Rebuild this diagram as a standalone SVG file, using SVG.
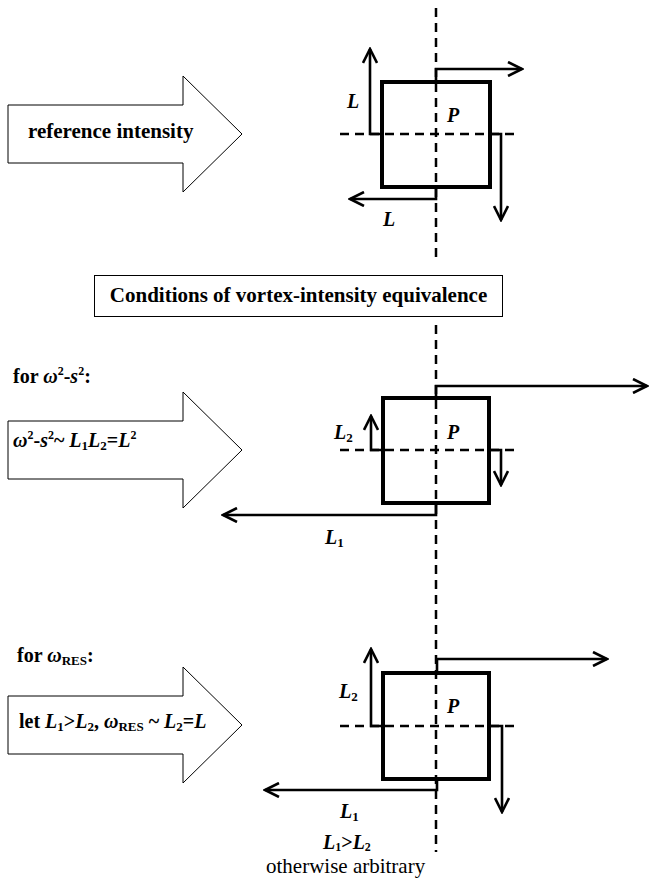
<svg xmlns="http://www.w3.org/2000/svg" width="649" height="880" viewBox="0 0 649 880">
<style>
text{font-family:"Liberation Serif","Times New Roman",serif;fill:#000}
.b{font-weight:bold}
.i{font-style:italic;font-weight:bold}
.blk{fill:#fff;stroke:#000;stroke-width:1}
.sq{fill:none;stroke:#000;stroke-width:4}
.dash{stroke:#000;stroke-width:2.5;stroke-dasharray:9 6;fill:none}
.ar{fill:none;stroke:#000;stroke-width:2.6;marker-end:url(#h)}
</style>
<defs>
<marker id="h" viewBox="-15 -8 17 16" refX="0" refY="0" markerWidth="17" markerHeight="16" markerUnits="userSpaceOnUse" orient="auto">
<path d="M-14,-7 L0,0 L-14,7" fill="none" stroke="#000" stroke-width="2.6"/>
</marker>
</defs>

<g id="guides">
<line class="dash" x1="436" y1="8" x2="436" y2="260"/>
<line class="dash" x1="436" y1="325" x2="436" y2="852"/>
<line class="dash" x1="340" y1="134" x2="517" y2="134"/>
<line class="dash" x1="340" y1="450" x2="517" y2="450"/>
<line class="dash" x1="340" y1="726" x2="517" y2="726"/>
</g>

<g id="arrow-ref">
<path class="blk" d="M8,105 H183 V76 L242,134 L183,192 V163 H8 Z"/>
<text class="b" x="28" y="138" font-size="21">reference intensity</text>
</g>

<g id="square-ref">
<rect class="sq" x="382" y="82" width="108" height="105"/>
<text class="i" x="347" y="108" font-size="20">L</text>
<text class="i" x="447" y="122" font-size="20">P</text>
<text class="i" x="383" y="226" font-size="20">L</text>
</g>

<g id="conditions">
<rect x="94.5" y="275.5" width="408" height="41" fill="#fff" stroke="#000" stroke-width="1"/>
<text class="b" x="298.5" y="302" font-size="21" text-anchor="middle">Conditions of vortex-intensity equivalence</text>
</g>

<g id="arrow-ws">
<text class="b" x="13" y="383" font-size="20">for <tspan class="i">ω</tspan><tspan font-size="12" dy="-8">2</tspan><tspan dy="8">-</tspan><tspan class="i">s</tspan><tspan font-size="12" dy="-8">2</tspan><tspan dy="8">:</tspan></text>
<path class="blk" d="M8,421 H183 V392 L242,450 L183,508 V479 H8 Z"/>
<text class="b" x="13" y="447" font-size="20"><tspan class="i">ω</tspan><tspan font-size="12" dy="-8">2</tspan><tspan dy="8">-</tspan><tspan class="i">s</tspan><tspan font-size="12" dy="-8">2</tspan><tspan dy="8">~ </tspan><tspan class="i">L</tspan><tspan font-size="13" dy="3">1</tspan><tspan class="i" dy="-3">L</tspan><tspan font-size="13" dy="3">2</tspan><tspan dy="-3">=</tspan><tspan class="i">L</tspan><tspan font-size="12" dy="-8">2</tspan></text>
</g>

<g id="square-ws">
<rect class="sq" x="383" y="398" width="106" height="105"/>
<text class="i" x="334" y="439" font-size="20">L<tspan font-size="13" font-style="normal" dy="3">2</tspan></text>
<text class="i" x="447" y="439" font-size="20">P</text>
<text class="i" x="325" y="544" font-size="20">L<tspan font-size="13" font-style="normal" dy="3">1</tspan></text>
</g>

<g id="arrow-res">
<text class="b" x="17" y="662" font-size="20">for <tspan class="i">ω</tspan><tspan font-size="13" dy="3">RES</tspan><tspan dy="-3">:</tspan></text>
<path class="blk" d="M8,696 H183 V667 L242,725 L183,783 V754 H8 Z"/>
<text class="b" x="19" y="728" font-size="20">let <tspan class="i">L</tspan><tspan font-size="13" dy="3">1</tspan><tspan dy="-3">&gt;</tspan><tspan class="i">L</tspan><tspan font-size="13" dy="3">2</tspan><tspan dy="-3">, </tspan><tspan class="i">ω</tspan><tspan font-size="13" dy="3">RES</tspan><tspan dy="-3"> ~ </tspan><tspan class="i">L</tspan><tspan font-size="13" dy="3">2</tspan><tspan dy="-3">=</tspan><tspan class="i">L</tspan></text>
</g>

<g id="square-res">
<rect class="sq" x="383" y="673" width="106" height="106"/>
<text class="i" x="339" y="698" font-size="20">L<tspan font-size="13" font-style="normal" dy="3">2</tspan></text>
<text class="i" x="447" y="713" font-size="20">P</text>
<text class="i" x="340" y="818" font-size="20">L<tspan font-size="13" font-style="normal" dy="3">1</tspan></text>
<text class="i" x="323" y="849" font-size="20">L<tspan font-size="12" font-style="normal" dy="2">1</tspan><tspan font-style="normal" dy="-2">&gt;</tspan>L<tspan font-size="12" font-style="normal" dy="2">2</tspan></text>
<text x="266" y="873" font-size="21">otherwise arbitrary</text>
</g>

<g id="connectors">
<path class="ar" d="M436,80 V69 H522"/>
<path class="ar" d="M380,134 H370 V49"/>
<path class="ar" d="M436,189 V199 H350"/>
<path class="ar" d="M492,134 H501 V220"/>

<path class="ar" d="M436,396 V386 H647"/>
<path class="ar" d="M381,450 H371 V416"/>
<path class="ar" d="M491,450 H501 V485"/>
<path class="ar" d="M436,505 V515 H223"/>

<path class="ar" d="M381,726 H371 V649"/>
<path class="ar" d="M437,671 V659 H607"/>
<path class="ar" d="M437,781 V790 H265"/>
<path class="ar" d="M491,726 H502 V812"/>
</g>
</svg>
